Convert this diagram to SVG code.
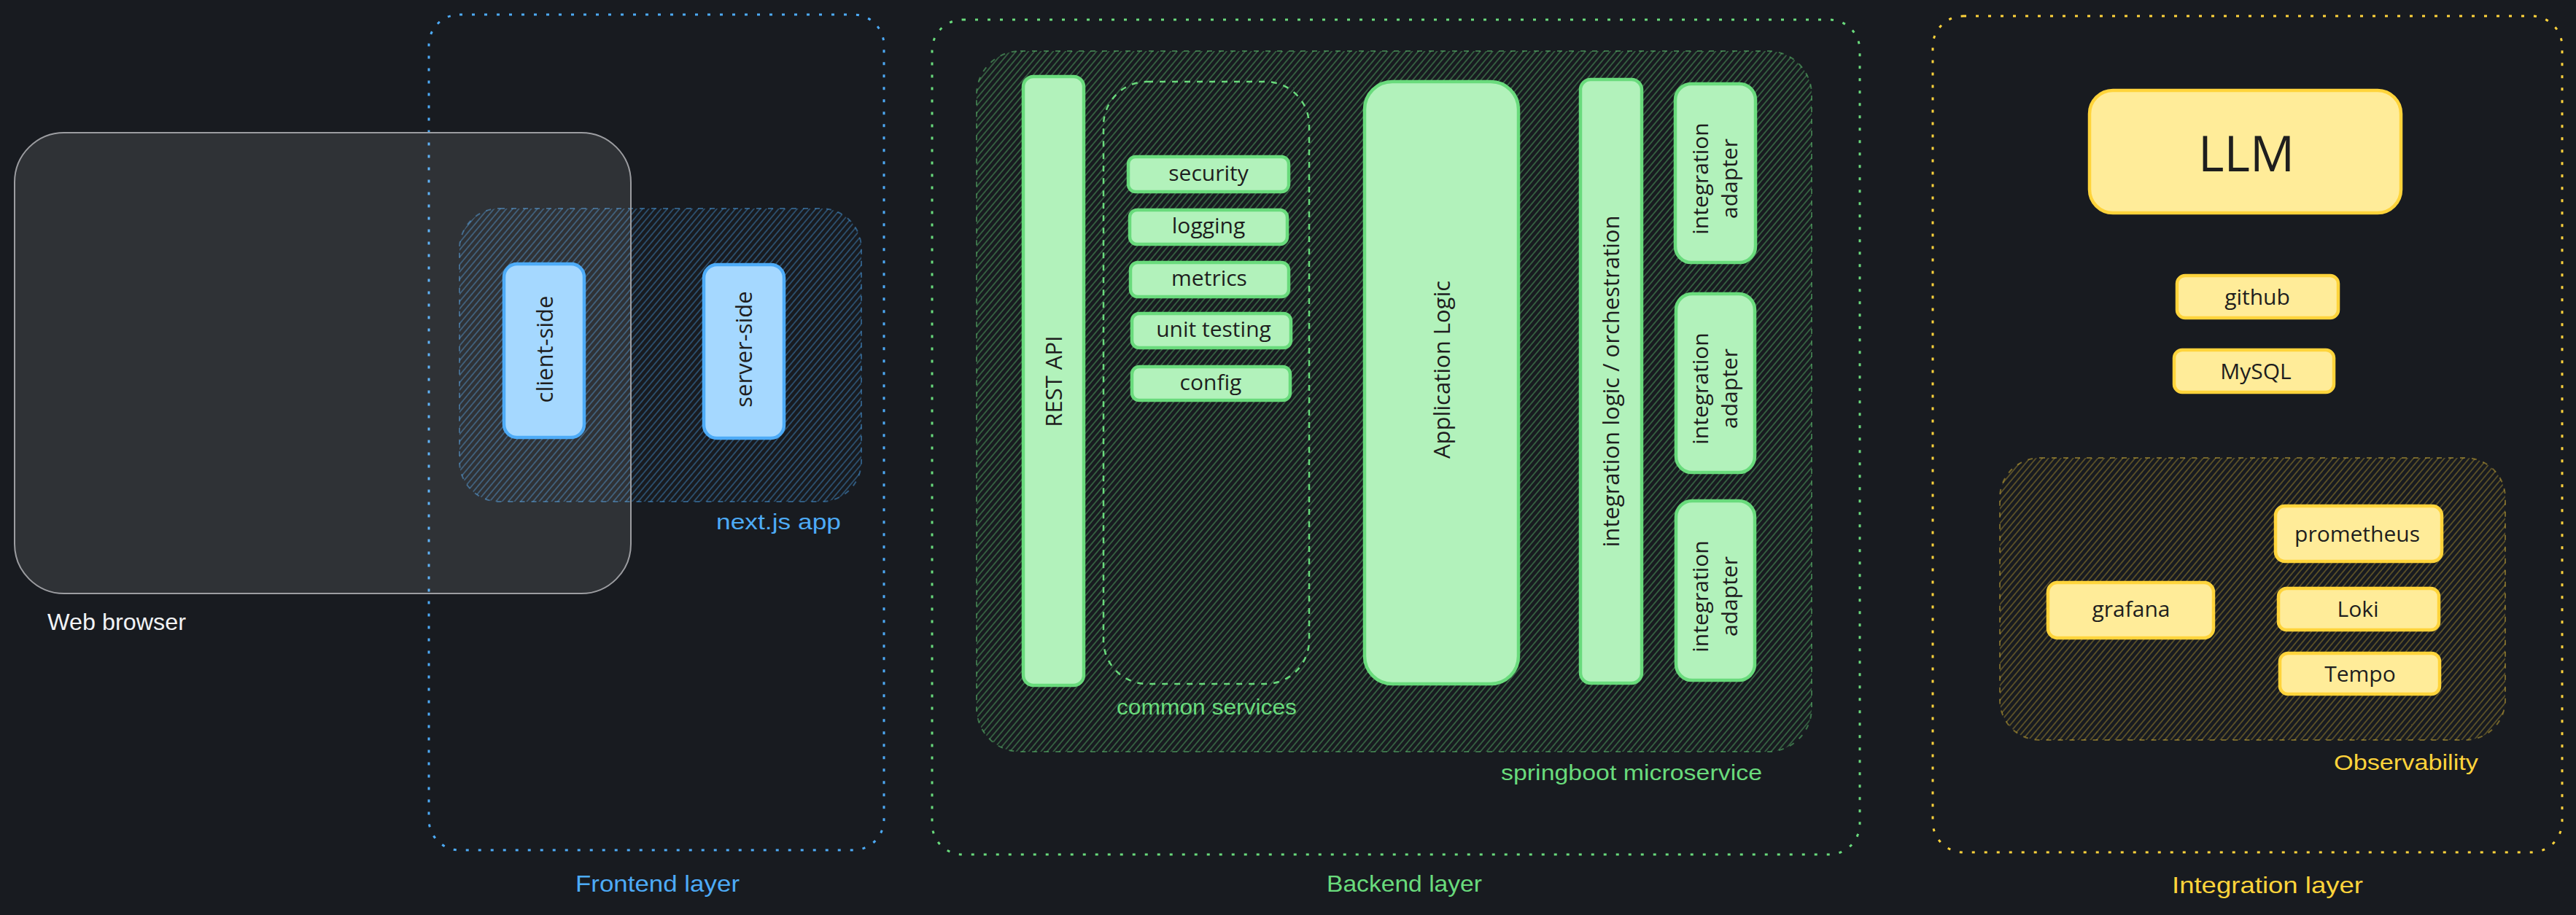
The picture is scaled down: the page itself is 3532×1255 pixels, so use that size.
<svg xmlns="http://www.w3.org/2000/svg" width="3532" height="1255" viewBox="0 0 3532 1255">
  <defs>
    <!-- diagonal hachure fills for the grouping areas -->
    <pattern id="hatch-blue" patternUnits="userSpaceOnUse" width="6.5" height="6.5" patternTransform="rotate(40)">
      <line x1="1" y1="0" x2="1" y2="6.5" stroke="#4dabf7" stroke-opacity="0.5" stroke-width="1.3"/>
    </pattern>
    <pattern id="hatch-green" patternUnits="userSpaceOnUse" width="6.5" height="6.5" patternTransform="rotate(40)">
      <line x1="1" y1="0" x2="1" y2="6.5" stroke="#69db7c" stroke-opacity="0.5" stroke-width="1.3"/>
    </pattern>
    <pattern id="hatch-yellow" patternUnits="userSpaceOnUse" width="6.5" height="6.5" patternTransform="rotate(40)">
      <line x1="1" y1="0" x2="1" y2="6.5" stroke="#ffd43b" stroke-opacity="0.4" stroke-width="1.3"/>
    </pattern>
    <style>
      .layer { fill: none; stroke-width: 3; stroke-dasharray: 4 13; }
      .layer.blue { stroke: #4dabf7; }
      .layer.green { stroke: #69db7c; }
      .layer.yellow { stroke: #ffd43b; }
      .area { stroke-width: 2; stroke-dasharray: 7 9; }
      .area.blue { fill: url(#hatch-blue); stroke: #4dabf7; stroke-opacity: 0.45; }
      .area.green { fill: url(#hatch-green); stroke: #69db7c; stroke-opacity: 0.45; }
      .area.yellow { fill: url(#hatch-yellow); stroke: #ffd43b; stroke-opacity: 0.4; }
      .group-dashed { fill: none; stroke: #69db7c; stroke-width: 2.5; stroke-dasharray: 8 9; }
      .box { stroke-width: 4.5; stroke-linejoin: round; }
      .box.blue { fill: #a5d8ff; stroke: #4dabf7; }
      .box.green { fill: #b2f2bb; stroke: #69db7c; }
      .box.yellow { fill: #ffec99; stroke: #ffd43b; }
      .node-text { font-family: "Open Sans", "Noto Sans", "Liberation Sans", sans-serif; font-size: 30px; fill: #1e1e1e; text-anchor: middle; }
      .tall { font-size: 31px; }
      .hand { font-family: "Liberation Sans", "DejaVu Sans", sans-serif; font-size: 30px; }
      .hand.big { font-size: 32px; }
      .c-white { fill: #f1f3f5; }
      .c-blue { fill: #4dabf7; }
      .c-green { fill: #69db7c; }
      .c-yellow { fill: #ffd43b; }
    </style>
  </defs>

  <!-- canvas -->
  <rect x="0" y="0" width="3532" height="1255" fill="#181b20"/>

  <!-- ===== Frontend layer ===== -->
  <g id="frontend-layer">
    <rect class="layer blue" x="588" y="20" width="624" height="1146" rx="42"/>
    <text class="hand big c-blue" x="789" y="1223" textLength="225" lengthAdjust="spacingAndGlyphs">Frontend layer</text>
  </g>

  <g id="nextjs-app">
    <rect class="area blue" x="630" y="286" width="551" height="402" rx="55"/>
    <text class="hand c-blue" x="982" y="726" textLength="171" lengthAdjust="spacingAndGlyphs">next.js app</text>
  </g>

  <g id="web-browser">
    <rect x="20" y="182" width="845" height="632" rx="68" fill="#ffffff" fill-opacity="0.1" stroke="#9c9da1" stroke-width="2"/>
    <text class="hand big c-white" x="65" y="864" textLength="190" lengthAdjust="spacingAndGlyphs">Web browser</text>
  </g>

  <g id="client-side">
    <rect class="box blue" x="691" y="362" width="110" height="238" rx="18"/>
    <text class="node-text tall" transform="translate(747,479) rotate(-90)" dy="0.35em">client-side</text>
  </g>

  <g id="server-side">
    <rect class="box blue" x="965" y="363" width="110" height="238" rx="18"/>
    <text class="node-text tall" transform="translate(1020,479) rotate(-90)" dy="0.35em">server-side</text>
  </g>

  <!-- ===== Backend layer ===== -->
  <g id="backend-layer">
    <rect class="layer green" x="1278" y="27" width="1272" height="1145" rx="42"/>
    <text class="hand big c-green" x="1819" y="1223" textLength="213" lengthAdjust="spacingAndGlyphs">Backend layer</text>
  </g>

  <g id="springboot-microservice">
    <rect class="area green" x="1339" y="70" width="1145" height="961" rx="60"/>
    <text class="hand c-green" x="2058" y="1070" textLength="358" lengthAdjust="spacingAndGlyphs">springboot microservice</text>
  </g>

  <g id="rest-api">
    <rect class="box green" x="1403" y="105" width="83" height="835" rx="14"/>
    <text class="node-text tall" transform="translate(1445,523) rotate(-90)" dy="0.35em">REST API</text>
  </g>

  <g id="common-services">
    <rect class="group-dashed" x="1513" y="112" width="282" height="826" rx="60"/>
    <text class="hand c-green" x="1531" y="980" textLength="247" lengthAdjust="spacingAndGlyphs">common services</text>
  </g>

  <g id="security">
    <rect class="box green" x="1547" y="215" width="220" height="48" rx="10"/>
    <text class="node-text" x="1657" y="248">security</text>
  </g>
  <g id="logging">
    <rect class="box green" x="1549" y="288" width="216" height="47" rx="10"/>
    <text class="node-text" x="1657" y="320">logging</text>
  </g>
  <g id="metrics">
    <rect class="box green" x="1550" y="360" width="217" height="47" rx="10"/>
    <text class="node-text" x="1658" y="392">metrics</text>
  </g>
  <g id="unit-testing">
    <rect class="box green" x="1552" y="430" width="218" height="47" rx="10"/>
    <text class="node-text" x="1664" y="462">unit testing</text>
  </g>
  <g id="config">
    <rect class="box green" x="1552" y="503" width="217" height="46" rx="10"/>
    <text class="node-text" x="1660" y="535">config</text>
  </g>

  <g id="application-logic">
    <rect class="box green" x="1871" y="112" width="211" height="826" rx="38"/>
    <text class="node-text tall" transform="translate(1977,507) rotate(-90)" dy="0.35em">Application Logic</text>
  </g>

  <g id="integration-orchestration">
    <rect class="box green" x="2167" y="109" width="84" height="828" rx="14"/>
    <text class="node-text tall" transform="translate(2209,523) rotate(-90)" dy="0.35em">integration logic / orchestration</text>
  </g>

  <g id="integration-adapter-1">
    <rect class="box green" x="2297" y="115" width="110" height="245" rx="22"/>
    <text class="node-text" transform="translate(2352,245) rotate(-90)"><tspan x="0" y="-10">integration</tspan><tspan x="0" y="30">adapter</tspan></text>
  </g>
  <g id="integration-adapter-2">
    <rect class="box green" x="2298" y="403" width="108" height="245" rx="22"/>
    <text class="node-text" transform="translate(2352,533) rotate(-90)"><tspan x="0" y="-10">integration</tspan><tspan x="0" y="30">adapter</tspan></text>
  </g>
  <g id="integration-adapter-3">
    <rect class="box green" x="2298" y="687" width="108" height="246" rx="22"/>
    <text class="node-text" transform="translate(2352,818) rotate(-90)"><tspan x="0" y="-10">integration</tspan><tspan x="0" y="30">adapter</tspan></text>
  </g>

  <!-- ===== Integration layer ===== -->
  <g id="integration-layer">
    <rect class="layer yellow" x="2650" y="22" width="863" height="1147" rx="42"/>
    <text class="hand big c-yellow" x="2978" y="1225" textLength="262" lengthAdjust="spacingAndGlyphs">Integration layer</text>
  </g>

  <g id="llm">
    <rect class="box yellow" x="2865" y="124" width="427" height="168" rx="32"/>
    <text class="node-text" x="3080" y="235" style="font-size:68px">LLM</text>
  </g>
  <g id="github">
    <rect class="box yellow" x="2985" y="378" width="221" height="58" rx="11"/>
    <text class="node-text" x="3095" y="418">github</text>
  </g>
  <g id="mysql">
    <rect class="box yellow" x="2981" y="480" width="219" height="58" rx="11"/>
    <text class="node-text" x="3093" y="520">MySQL</text>
  </g>

  <g id="observability">
    <rect class="area yellow" x="2742" y="628" width="693" height="387" rx="55"/>
    <text class="hand c-yellow" x="3200" y="1056" textLength="198" lengthAdjust="spacingAndGlyphs">Observability</text>
  </g>
  <g id="prometheus">
    <rect class="box yellow" x="3120" y="694" width="228" height="76" rx="13"/>
    <text class="node-text" x="3232" y="743">prometheus</text>
  </g>
  <g id="grafana">
    <rect class="box yellow" x="2808" y="799" width="227" height="76" rx="13"/>
    <text class="node-text" x="2922" y="846">grafana</text>
  </g>
  <g id="loki">
    <rect class="box yellow" x="3124" y="807" width="220" height="57" rx="11"/>
    <text class="node-text" x="3233" y="846">Loki</text>
  </g>
  <g id="tempo">
    <rect class="box yellow" x="3126" y="896" width="219" height="56" rx="11"/>
    <text class="node-text" x="3236" y="935">Tempo</text>
  </g>
</svg>
